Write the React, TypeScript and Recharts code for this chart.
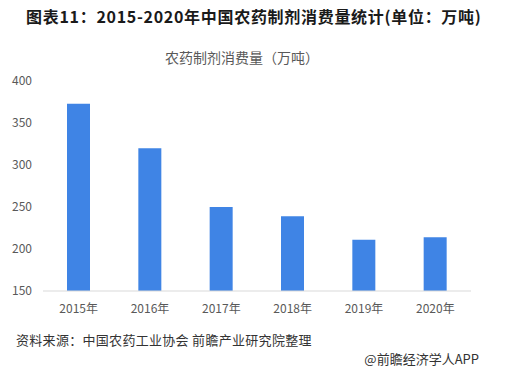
import React from 'react';
import { BarChart, Bar, XAxis, YAxis } from 'recharts';

const years = ['2015年', '2016年', '2017年', '2018年', '2019年', '2020年'];
const consumption = [373, 320, 250, 239, 211, 214];
const yTicks = [150, 200, 250, 300, 350, 400];

const data = years.map((year, i) => ({ year, value: consumption[i] }));

const font = '"Noto Sans CJK SC", "Noto Sans", sans-serif';

const App: React.FC = () => {
  return (
    <div style={{ position: 'absolute', left: 0, top: 0, width: 510, height: 389, background: '#fff', fontFamily: font }}>
      <div style={{ position: 'absolute', left: 26, top: 6, fontSize: 16, lineHeight: '20px', fontWeight: 700, letterSpacing: 0.7, color: '#1a1a1a', whiteSpace: 'nowrap' }}>
        图表11：2015-2020年中国农药制剂消费量统计(单位：万吨)
      </div>
      <div style={{ position: 'absolute', left: 0, width: 484, top: 47, textAlign: 'center', fontSize: 14, lineHeight: '20px', color: '#595959' }}>
        农药制剂消费量（万吨）
      </div>

      <div style={{ position: 'absolute', left: 0, top: 0 }}>
        <BarChart width={510} height={389} data={data} margin={{ top: 81, right: 39, bottom: 68, left: 0 }}>
          <XAxis
            dataKey="year"
            height={30}
            axisLine={{ stroke: '#d9d9d9' }}
            tickLine={false}
            tickMargin={7}
            tick={{ fill: '#595959', fontSize: 12, fontFamily: font }}
          />
          <YAxis
            width={43}
            domain={[150, 400]}
            ticks={yTicks}
            axisLine={false}
            tickLine={false}
            tickMargin={5}
            tick={{ fill: '#595959', fontSize: 12, fontFamily: font }}
          />
          <Bar dataKey="value" fill="#3f84e5" barSize={23} isAnimationActive={false} />
        </BarChart>
      </div>

      <div style={{ position: 'absolute', left: 16, top: 330, fontSize: 13, lineHeight: '20px', letterSpacing: 0.3, color: '#333', whiteSpace: 'nowrap' }}>
        资料来源：中国农药工业协会 前瞻产业研究院整理
      </div>
      <div style={{ position: 'absolute', right: 31, top: 349, fontSize: 13, lineHeight: '20px', color: '#333', whiteSpace: 'nowrap' }}>
        @前瞻经济学人APP
      </div>
    </div>
  );
};

export default App;
